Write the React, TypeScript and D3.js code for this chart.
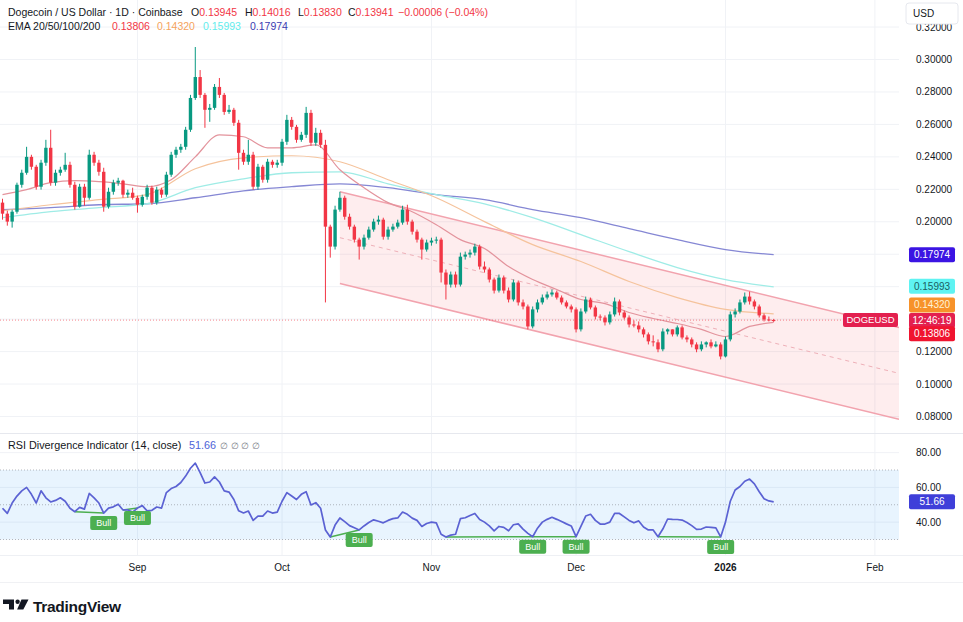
import * as d3 from "d3"

// ---- data (daily candles, Aug 4 2025 -> Jan 11 2026) ----
const START = Date.UTC(2025, 7, 4)
const END = Date.UTC(2026, 1, 6)
const DAY = 86400000

const firstOpen = 0.2118

const closes = [
  0.2050, 0.2001, 0.2062, 0.2228, 0.2302, 0.2400, 0.2339, 0.2216, 0.2364, 0.2456,
  0.2241, 0.2302, 0.2321, 0.2351, 0.2228, 0.2093, 0.2216, 0.2148, 0.2413, 0.2364,
  0.2308, 0.2093, 0.2185, 0.2241, 0.2253, 0.2167, 0.2179, 0.2148, 0.2105, 0.2154,
  0.2210, 0.2118, 0.2198, 0.2167, 0.2290, 0.2413, 0.2444, 0.2462, 0.2567, 0.2763,
  0.2892, 0.2782, 0.2690, 0.2702, 0.2831, 0.2782, 0.2677, 0.2690, 0.2610, 0.2425,
  0.2370, 0.2413, 0.2216, 0.2339, 0.2259, 0.2370, 0.2351, 0.2364, 0.2493, 0.2628,
  0.2585, 0.2505, 0.2536, 0.2671, 0.2487, 0.2548, 0.2474, 0.1970, 0.1847, 0.2075,
  0.2148, 0.2031, 0.1970, 0.1890, 0.1847, 0.1902, 0.1952, 0.2001, 0.2013, 0.1908,
  0.1952, 0.1970, 0.1995, 0.2075, 0.2001, 0.1939, 0.1890, 0.1829, 0.1872, 0.1884,
  0.1890, 0.1687, 0.1613, 0.1675, 0.1613, 0.1785, 0.1798, 0.1810, 0.1847, 0.1724,
  0.1706, 0.1644, 0.1576, 0.1656, 0.1576, 0.1521, 0.1626, 0.1503, 0.1478, 0.1355,
  0.1460, 0.1503, 0.1533, 0.1552, 0.1564, 0.1533, 0.1503, 0.1478, 0.1460, 0.1337,
  0.1447, 0.1521, 0.1472, 0.1416, 0.1410, 0.1380, 0.1429, 0.1509, 0.1441, 0.1410,
  0.1367, 0.1361, 0.1337, 0.1306, 0.1263, 0.1257, 0.1214, 0.1324, 0.1337, 0.1306,
  0.1349, 0.1287, 0.1275, 0.1244, 0.1214, 0.1244, 0.1257, 0.1232, 0.1244, 0.1170,
  0.1275, 0.1429, 0.1447, 0.1503, 0.1539, 0.1509, 0.1478, 0.1423, 0.1398, 0.13945,
  0.13941,
]

const highs = [
  0.2142, 0.2068, 0.2075, 0.2241, 0.2321, 0.2462, 0.2413, 0.2351, 0.2382, 0.2505,
  0.2567, 0.2321, 0.2339, 0.2425, 0.2370, 0.2247, 0.2234, 0.2234, 0.2444, 0.2431,
  0.2382, 0.2333, 0.2210, 0.2259, 0.2271, 0.2259, 0.2198, 0.2210, 0.2161, 0.2167,
  0.2228, 0.2222, 0.2216, 0.2210, 0.2308, 0.2431, 0.2462, 0.2480, 0.2585, 0.2782,
  0.3077, 0.2935, 0.2794, 0.2726, 0.2849, 0.2886, 0.2794, 0.2720, 0.2702, 0.2628,
  0.2444, 0.2505, 0.2431, 0.2357, 0.2351, 0.2388, 0.2382, 0.2382, 0.2511, 0.2659,
  0.2646, 0.2597, 0.2554, 0.2708, 0.2690, 0.2579, 0.2567, 0.2505, 0.1982, 0.2099,
  0.2185, 0.2161, 0.2050, 0.1982, 0.1902, 0.1921, 0.1970, 0.2019, 0.2038, 0.2025,
  0.1970, 0.1988, 0.2013, 0.2099, 0.2105, 0.2013, 0.1952, 0.1902, 0.1890, 0.1902,
  0.1908, 0.1902, 0.1706, 0.1693, 0.1693, 0.1810, 0.1816, 0.1829, 0.1865, 0.1859,
  0.1755, 0.1718, 0.1656, 0.1675, 0.1669, 0.1595, 0.1644, 0.1638, 0.1521, 0.1490,
  0.1478, 0.1521, 0.1552, 0.1570, 0.1583, 0.1576, 0.1546, 0.1515, 0.1490, 0.1472,
  0.1466, 0.1539, 0.1533, 0.1484, 0.1429, 0.1423, 0.1447, 0.1533, 0.1521, 0.1453,
  0.1423, 0.1392, 0.1386, 0.1349, 0.1318, 0.1300, 0.1275, 0.1343, 0.1343, 0.1337,
  0.1361, 0.1361, 0.1300, 0.1287, 0.1257, 0.1263, 0.1263, 0.1275, 0.1263, 0.1257,
  0.1293, 0.1447, 0.1466, 0.1521, 0.1564, 0.1570, 0.1521, 0.1490, 0.1435, 0.1416,
  0.14016,
]

const lows = [
  0.2013, 0.1976, 0.1964, 0.2050, 0.2210, 0.2290, 0.2321, 0.2198, 0.2198, 0.2345,
  0.2222, 0.2222, 0.2284, 0.2308, 0.2210, 0.2075, 0.2087, 0.2099, 0.2136, 0.2345,
  0.2284, 0.2062, 0.2081, 0.2167, 0.2222, 0.2148, 0.2148, 0.2136, 0.2056, 0.2093,
  0.2136, 0.2105, 0.2105, 0.2148, 0.2154, 0.2277, 0.2394, 0.2425, 0.2444, 0.2554,
  0.2751, 0.2763, 0.2579, 0.2616, 0.2690, 0.2763, 0.2659, 0.2665, 0.2591, 0.2321,
  0.2351, 0.2351, 0.2198, 0.2198, 0.2241, 0.2241, 0.2333, 0.2333, 0.2345, 0.2474,
  0.2567, 0.2487, 0.2493, 0.2517, 0.2468, 0.2468, 0.2456, 0.1503, 0.1779, 0.1829,
  0.2062, 0.2013, 0.1952, 0.1872, 0.1767, 0.1829, 0.1890, 0.1939, 0.1982, 0.1890,
  0.1890, 0.1939, 0.1958, 0.1982, 0.1982, 0.1921, 0.1872, 0.1767, 0.1816, 0.1853,
  0.1865, 0.1626, 0.1521, 0.1595, 0.1595, 0.1601, 0.1767, 0.1779, 0.1792, 0.1706,
  0.1687, 0.1626, 0.1558, 0.1564, 0.1558, 0.1503, 0.1509, 0.1484, 0.1460, 0.1337,
  0.1343, 0.1441, 0.1490, 0.1521, 0.1539, 0.1521, 0.1490, 0.1466, 0.1441, 0.1318,
  0.1324, 0.1435, 0.1460, 0.1398, 0.1392, 0.1361, 0.1367, 0.1416, 0.1423, 0.1398,
  0.1349, 0.1349, 0.1318, 0.1287, 0.1244, 0.1232, 0.1196, 0.1202, 0.1306, 0.1293,
  0.1293, 0.1275, 0.1257, 0.1226, 0.1196, 0.1202, 0.1226, 0.1220, 0.1226, 0.1152,
  0.1164, 0.1263, 0.1410, 0.1435, 0.1490, 0.1490, 0.1460, 0.1410, 0.1386, 0.1386,
  0.13830,
]

// EMA lines at candle indices
const ema20Idx = [0, 5, 10, 15, 20, 25, 30, 35, 40, 45, 50, 55, 60, 65, 70, 75, 80, 85, 90, 95, 100, 105, 110, 115, 120, 125, 130, 135, 140, 145, 150, 155, 160]
const ema20 = [0.2167, 0.2198, 0.2241, 0.2253, 0.2247, 0.2234, 0.2216, 0.2259, 0.2400, 0.2536, 0.2524, 0.2456, 0.2456, 0.2474, 0.2321, 0.2210, 0.2118, 0.2062, 0.1982, 0.1890, 0.1835, 0.1724, 0.1644, 0.1583, 0.1521, 0.1496, 0.1441, 0.1404, 0.1373, 0.1337, 0.1293, 0.1355, 0.13806]
const emaIdx = [0, 10, 20, 30, 40, 50, 60, 70, 80, 90, 100, 110, 120, 130, 140, 150, 160]
const ema50 = [0.2068, 0.2105, 0.2136, 0.2167, 0.2327, 0.2394, 0.2407, 0.2370, 0.2259, 0.2148, 0.2001, 0.1859, 0.1755, 0.1632, 0.1533, 0.1460, 0.1432]
const ema100 = [0.2025, 0.2062, 0.2087, 0.2111, 0.2210, 0.2265, 0.2302, 0.2308, 0.2234, 0.2167, 0.2111, 0.2025, 0.1921, 0.1816, 0.1718, 0.1644, 0.15993]
const ema200 = [0.2075, 0.2087, 0.2105, 0.2111, 0.2148, 0.2191, 0.2216, 0.2234, 0.2210, 0.2167, 0.2136, 0.2075, 0.2025, 0.1958, 0.1890, 0.1829, 0.17974]

// falling channel (index, upper, lower)
const channelIdx = [70, 186]
const channelUpper = [0.2185, 0.1349]
const channelLower = [0.1619, 0.0783]

const rsi = [
  48, 45, 51, 55, 58, 60, 56, 51, 58, 54,
  51.6, 52.5, 54, 52, 48, 46, 48.5, 47.5, 56.5, 54,
  51, 45.2, 48.1, 48.8, 50.3, 47, 47, 45.8, 48.1, 49.5,
  46.5, 46.8, 48.7, 48.1, 57, 59.3, 60.5, 62.8, 66.5, 71,
  74, 68.5, 62.5, 63.1, 66, 63.1, 58, 57.3, 53, 46.5,
  45.3, 46.4, 41, 43.5, 43.5, 46.4, 45.2, 45.8, 52, 57,
  55, 53, 56, 57.5, 49.9, 51.2, 48, 35.5, 31.4, 38.3,
  42.4, 40.3, 38, 36.8, 35.5, 37.8, 39.8, 41.3, 40.5, 39.6,
  41, 42, 42.4, 45.8, 44.5, 42.3, 41, 37.5, 39.2, 40,
  39.6, 33, 31.4, 32.5, 33, 42, 42.5, 43.8, 45, 41.5,
  40, 37.8, 35, 37.5, 37, 35, 38.5, 39, 36, 33.5,
  31.6, 36.5, 40, 41.6, 42.8, 41.6, 40.3, 39, 37.8, 31.6,
  37.5, 43.5, 44.5, 41, 38.9, 38.9, 40, 45, 45, 43,
  41, 39.6, 40.7, 37.2, 35.5, 35.5, 31.6, 36, 41.8, 41.6,
  41.5, 41.2, 39.8, 38, 35.8, 36, 37.2, 37, 36.7, 31.5,
  40, 52, 58.5, 60.5, 63.5, 64.8, 62, 57.5, 53.5, 52.2,
  51.66,
]

// bullish divergences: [from index, to index]
const bullDivs = [[15, 21], [25, 28], [68, 74], [92, 110], [110, 119], [136, 149]]

const priceTicks = [0.08, 0.10, 0.12, 0.14, 0.16, 0.18, 0.20, 0.22, 0.24, 0.26, 0.28, 0.30, 0.32]
const rsiTicks = [40, 60, 80]
const rsiBands = [70, 50, 30]

const UP = "#089981"
const DOWN = "#f23645"
const FONT = "'Liberation Sans', Arial, sans-serif"
const TXT = "#131722"
const GRID = "#f0f2f6"

export default function App() {
  const W = 963
  const H = 622
  const plotR = 899

  const x = d3.scaleUtc().domain([new Date(START), new Date(END)]).range([2.5, plotR])
  const xi = (i: number) => x(new Date(START + i * DAY))
  const yP = d3.scaleLinear().domain([0.08, 0.3]).range([416.5, 59.5])
  const yR = d3.scaleLinear().domain([30, 70]).range([539.5, 470])

  const candles = closes.map((c, i) => {
    const o = i === 0 ? firstOpen : closes[i - 1]
    return { i, o, c, h: Math.max(highs[i], o, c), l: Math.min(lows[i], o, c) }
  })

  const months = d3.utcMonth.range(new Date(START), new Date(END))

  const emaPath = (idx: number[], vals: number[]) =>
    d3.line<number>()
      .x((_, k) => xi(idx[k]))
      .y(v => yP(v))
      .curve(d3.curveMonotoneX)(vals) || ""

  const rsiPath = d3.line<number>()
    .x((_, i) => xi(i))
    .y(v => yR(v))(rsi) || ""

  const cx0 = xi(channelIdx[0]), cx1 = xi(channelIdx[1])
  const chanPoly = [
    [cx0, yP(channelUpper[0])], [cx1, yP(channelUpper[1])],
    [cx1, yP(channelLower[1])], [cx0, yP(channelLower[0])],
  ].map(p => p.join(",")).join(" ")

  const lastY = yP(closes[closes.length - 1])

  // axis tags on the right (y, background, text, text colour)
  const tags: [number, string, string, string][] = [
    [yP(ema200[ema200.length - 1]), "#3b14e3", "0.17974", "#fff"],
    [yP(ema100[ema100.length - 1]) - 0.5, "#5ff3f2", "0.15993", "#1c5e62"],
    [yP(ema50[ema50.length - 1]) - 9, "#f7922a", "0.14320", "#fff3d6"],
    [lastY + 0.5, "#e3204f", "12:46:19", "#fff"],
    [yP(ema20[ema20.length - 1]) + 11.5, "#f0142f", "0.13806", "#fff"],
  ]
  const visibleTicks = priceTicks.filter(t => tags.every(([ty]) => Math.abs(ty - yP(t)) > 11))

  const tag = (y: number, bg: string, label: string, fg = "#fff") => (
    <g key={label}>
      <rect x={909} y={y - 7.5} width={46} height={15} rx={2} fill={bg} />
      <text x={932} y={y} dy="0.35em" textAnchor="middle" fontSize={10} fill={fg}>{label}</text>
    </g>
  )

  return (
    <svg width={W} height={H} style={{ position: "absolute", left: 0, top: 0, background: "#fff" }} fontFamily={FONT}>
      <defs>
        <clipPath id="pricePane"><rect x={0} y={0} width={plotR} height={433} /></clipPath>
      </defs>
      <rect width={W} height={H} fill="#fff" />

      {/* grid */}
      {priceTicks.map(t => (
        <line key={t} x1={0} x2={plotR} y1={yP(t)} y2={yP(t)} stroke={GRID} />
      ))}
      {rsiTicks.map(t => (
        <line key={t} x1={0} x2={plotR} y1={yR(t)} y2={yR(t)} stroke={GRID} />
      ))}
      {months.map(m => (
        <line key={+m} x1={x(m)} x2={x(m)} y1={0} y2={555} stroke={GRID} />
      ))}

      <g clipPath="url(#pricePane)">
        {/* channel */}
        <polygon points={chanPoly} fill="#f23645" fillOpacity={0.09} />
        <line x1={cx0} y1={yP(channelUpper[0])} x2={cx1} y2={yP(channelUpper[1])} stroke="#f2a3ae" strokeWidth={1.5} />
        <line x1={cx0} y1={yP(channelLower[0])} x2={cx1} y2={yP(channelLower[1])} stroke="#f2a3ae" strokeWidth={1.5} />
        <line x1={cx0} y1={yP((channelUpper[0] + channelLower[0]) / 2)} x2={cx1} y2={yP((channelUpper[1] + channelLower[1]) / 2)}
          stroke="#eeb0b8" strokeWidth={1} strokeDasharray="4 4" />

        {/* EMAs */}
        <path d={emaPath(emaIdx, ema200)} fill="none" stroke="#8587d4" strokeWidth={1.3} />
        <path d={emaPath(emaIdx, ema100)} fill="none" stroke="#9fece6" strokeWidth={1.3} />
        <path d={emaPath(emaIdx, ema50)} fill="none" stroke="#f5c39c" strokeWidth={1.2} />
        <path d={emaPath(ema20Idx, ema20)} fill="none" stroke="#e3939c" strokeWidth={1.2} />

        {/* last price line */}
        <line x1={0} x2={plotR} y1={lastY} y2={lastY} stroke="#f23645" strokeOpacity={0.6} strokeDasharray="1 2" />

        {/* candles */}
        {candles.map(d => {
          const cx = xi(d.i)
          const col = d.c >= d.o ? UP : DOWN
          const top = yP(Math.max(d.o, d.c))
          const bot = yP(Math.min(d.o, d.c))
          return (
            <g key={d.i}>
              <line x1={cx} x2={cx} y1={yP(d.h)} y2={yP(d.l)} stroke={col} strokeWidth={1} />
              <rect x={cx - 1.7} y={top} width={3.4} height={Math.max(1, bot - top)} fill={col} />
            </g>
          )
        })}
      </g>

      {/* DOGEUSD label on the price line */}
      <rect x={843} y={lastY - 7} width={55} height={14} rx={2} fill="#e3204f" />
      <text x={870.5} y={lastY} dy="0.35em" textAnchor="middle" fontSize={9.5} fill="#fff">DOGEUSD</text>

      {/* pane separators */}
      <line x1={0} x2={W} y1={433.5} y2={433.5} stroke="#e6e8ee" />
      <line x1={0} x2={W} y1={555.5} y2={555.5} stroke="#eef0f4" />

      {/* price axis */}
      {visibleTicks.map(t => (
        <text key={t} x={916} y={yP(t)} dy="0.35em" fontSize={10} fill={TXT}>{t.toFixed(5)}</text>
      ))}
      <rect x={906} y={3} width={52} height={21} rx={3} fill="#fff" stroke="#e6e8ee" />
      <text x={913} y={13.5} dy="0.35em" fontSize={10} fill={TXT}>USD</text>

      {tags.map(([y, bg, label, fg]) => tag(y, bg, label, fg))}

      {/* header */}
      <text y={15.5} fontSize={10.5} fill={TXT}>
        <tspan x={8}>Dogecoin / US Dollar · 1D · Coinbase</tspan>
        <tspan x={191}>O</tspan><tspan fill={DOWN}>0.13945</tspan>
        <tspan x={245}>H</tspan><tspan fill={DOWN}>0.14016</tspan>
        <tspan x={298}>L</tspan><tspan fill={DOWN}>0.13830</tspan>
        <tspan x={348}>C</tspan><tspan fill={DOWN}>0.13941</tspan>
        <tspan x={398} fill={DOWN}>−0.00006 (−0.04%)</tspan>
      </text>
      <text y={30} fontSize={10.5} fill={TXT}>
        <tspan x={8}>EMA 20/50/100/200</tspan>
        <tspan x={112} fill="#f23645">0.13806</tspan>
        <tspan x={157} fill="#f5a25d">0.14320</tspan>
        <tspan x={203} fill="#62ecec">0.15993</tspan>
        <tspan x={250} fill="#3a3ab0">0.17974</tspan>
      </text>

      {/* RSI pane */}
      <rect x={0} y={yR(70)} width={plotR} height={yR(30) - yR(70)} fill="#2196f3" fillOpacity={0.1} />
      {rsiBands.map(b => (
        <line key={b} x1={0} x2={plotR} y1={yR(b)} y2={yR(b)} stroke="#9598a1" strokeOpacity={0.7} strokeDasharray="1 2" />
      ))}
      {bullDivs.map(([a, b]) => (
        <line key={`${a}-${b}`} x1={xi(a)} y1={yR(rsi[a])} x2={xi(b)} y2={yR(rsi[b])} stroke="#4caf50" strokeWidth={1.5} />
      ))}
      <path d={rsiPath} fill="none" stroke="#5b62d3" strokeWidth={1.7} strokeLinejoin="round" />
      {bullDivs.map(([a, b]) => {
        const bx = xi(b)
        const by = yR(rsi[b]) + 3
        return (
          <g key={`lbl-${a}-${b}`}>
            <rect x={bx - 13.5} y={by} width={27} height={14} rx={2} fill="#4caf50" />
            <text x={bx} y={by + 7} dy="0.35em" textAnchor="middle" fontSize={9} fill="#fff">Bull</text>
          </g>
        )
      })}
      <text y={448.5} fontSize={10.8} fill={TXT}>
        <tspan x={8}>RSI Divergence Indicator (14, close)</tspan>
        <tspan x={189} fill="#4d63d8">51.66</tspan>
        <tspan x={220} fill="#787b86" fontSize={9}>∅ ∅ ∅ ∅</tspan>
      </text>
      {rsiTicks.map(t => (
        <text key={t} x={916} y={yR(t)} dy="0.35em" fontSize={10} fill={TXT}>{t.toFixed(2)}</text>
      ))}
      {tag(yR(51.66), "#3f3fd9", "51.66")}

      {/* time axis */}
      {months.map(m => {
        const isYear = m.getUTCMonth() === 0
        return (
          <text key={+m} x={x(m)} y={567} dy="0.35em" textAnchor="middle" fontSize={10}
            fill={TXT} fontWeight={isYear ? 700 : 400}>
            {isYear ? d3.utcFormat("%Y")(m) : d3.utcFormat("%b")(m)}
          </text>
        )
      })}

      {/* footer */}
      <line x1={0} x2={W} y1={582.5} y2={582.5} stroke="#f0f1f4" />
      <g fill="#131722">
        <path d="M3 599.5h11v10h-5v-5.5h-6z" />
        <circle cx={17.6} cy={601.8} r={2.2} />
        <path d="M21.5 599.5h7l-5.2 10h-6.2z" />
      </g>
      <text x={33} y={612} fontSize={15.5} fontWeight={700} fill="#131722" letterSpacing={-0.3}>TradingView</text>
    </svg>
  )
}
